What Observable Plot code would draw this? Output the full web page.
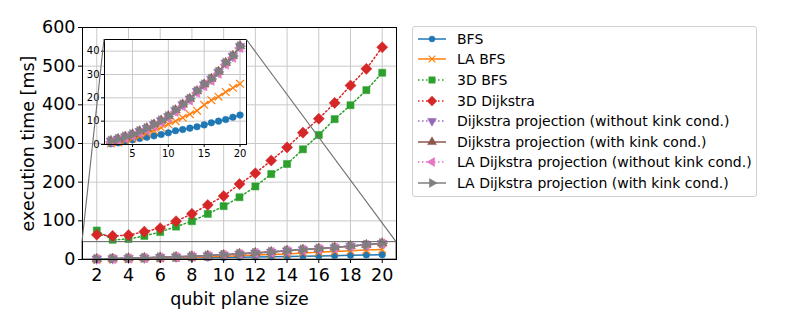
<!DOCTYPE html>
<html><head><meta charset="utf-8">
<script src="https://cdn.jsdelivr.net/npm/d3@7"></script>
<script src="https://cdn.jsdelivr.net/npm/@observablehq/plot@0.6"></script>
<style>
body{margin:0;background:#fff;}
#wrap{position:relative;width:793px;height:325px;font-family:"DejaVu Sans",sans-serif;color:#000;}
#wrap > svg{position:absolute;left:0;top:0;}
</style></head><body><div id="wrap"></div>
<script>
// ---- data ----
const sizes = [2,3,4,5,6,7,8,9,10,11,12,13,14,15,16,17,18,19,20];
const bfs        = [0.3,0.7,1.3,2.0,2.6,3.1,3.7,4.3,5.0,5.9,6.4,7.0,7.6,8.4,9.3,10.0,10.7,11.7,12.6];
const laBfs      = [0.4,0.9,1.6,2.5,3.6,4.8,6.0,7.2,8.7,10.0,11.5,13.0,14.5,17.0,19.0,20.5,22.5,24.3,26.0];
const bfs3d      = [75,51,53,61,71,85,99,118,138,161,189,221,247,285,322,363,399,438,483];
const dijkstra3d = [64,61,63,72,81,99,118,141,164,195,223,256,290,328,364,405,450,493,549];
const dijProjNoKink   = [1.6,2.4,3.4,4.3,5.7,7.0,8.6,10.3,12.1,14.7,17.1,19.6,22.9,25.7,28.1,31.1,35.0,37.9,42.1];
const dijProjKink     = [1.6,2.4,3.4,4.4,5.7,7.0,8.6,10.3,12.2,14.7,17.2,19.6,22.9,25.8,28.2,31.2,35.0,38.0,42.2];
const laDijProjNoKink = [1.1,1.8,2.8,3.7,5.0,6.3,7.9,9.6,11.4,14.0,16.4,18.9,22.2,25.0,27.4,30.4,34.3,37.2,41.4];
const laDijProjKink   = [1.6,2.4,3.4,4.3,5.7,7.0,8.6,10.3,12.1,14.7,17.1,19.6,22.9,25.7,28.1,31.1,35.0,37.9,42.1];
const seriesNames = ["BFS","LA BFS","3D BFS","3D Dijkstra",
  "Dijkstra projection (without kink cond.)","Dijkstra projection (with kink cond.)",
  "LA Dijkstra projection (without kink cond.)","LA Dijkstra projection (with kink cond.)"];
const xTicks = [2,4,6,8,10,12,14,16,18,20];
const yTicks = [0,100,200,300,400,500,600];
const insetXTicks = [5,10,15,20];
const insetYTicks = [0,10,20,30,40];
const xDomain = [1.1, 20.9];
const yDomain = [0, 600];
const insetYDomain = [0, 45];
const mainLabels = {x:"qubit plane size", y:"execution time [ms]"};

// ---- styles ----
const DOT = "1.5,2.5";
const styles = [
  {color:"#1f77b4", dash:null, symbol:"circle",   rotate:0,   r:3.3, lr:3.0, inInset:true},
  {color:"#ff7f0e", dash:null, symbol:"times",    rotate:0,   r:3.6, lr:3.2, inInset:true},
  {color:"#2ca02c", dash:DOT,  symbol:"square",   rotate:0,   r:4.0, lr:3.6, inInset:false},
  {color:"#d62728", dash:DOT,  symbol:"diamond2", rotate:0,   r:5.0, lr:4.4, inInset:false},
  {color:"#9467bd", dash:DOT,  symbol:"triangle", rotate:180, r:3.6, lr:3.3, inInset:true},
  {color:"#8c564b", dash:null, symbol:"triangle", rotate:0,   r:3.6, lr:3.3, inInset:true},
  {color:"#e377c2", dash:DOT,  symbol:"triangle", rotate:-90, r:3.6, lr:3.3, inInset:true},
  {color:"#7f7f7f", dash:null, symbol:"triangle", rotate:90,  r:3.6, lr:3.3, inInset:true}
];
const values = [bfs, laBfs, bfs3d, dijkstra3d, dijProjNoKink, dijProjKink, laDijProjNoKink, laDijProjKink];
const series = seriesNames.map((name,i)=>({name, values:values[i], ...styles[i]}));
const rows = vals => sizes.map((s,i)=>({x:s, y:vals[i]}));

function seriesMarks(list){
  return list.flatMap(s=>{
    const data = rows(s.values);
    const stroked = s.symbol === "times";
    return [
      Plot.line(data,{x:"x",y:"y",stroke:s.color,strokeWidth:1.5,strokeDasharray:s.dash}),
      Plot.dot(data,{x:"x",y:"y",symbol:s.symbol,r:s.r,rotate:s.rotate,
        fill: stroked ? "none" : s.color, stroke: s.color, strokeWidth: stroked ? 1.2 : 0.5})
    ];
  });
}
const GRID = "#c9c9c9";
const LINK = "#6e6e6e";
const wrap = document.getElementById("wrap");

const main = Plot.plot({
  width:793, height:325, marginLeft:82, marginRight:397, marginTop:27, marginBottom:66,
  style:{fontFamily:"DejaVu Sans", fontSize:"17.5px", color:"#000", background:"transparent", overflow:"visible"},
  x:{domain:xDomain}, y:{domain:yDomain},
  marks:[
    Plot.gridX(xTicks,{stroke:GRID,strokeOpacity:1,strokeWidth:1}),
    Plot.gridY(yTicks,{stroke:GRID,strokeOpacity:1,strokeWidth:1}),
    ...seriesMarks(series),
    Plot.rect([{x1:xDomain[0],x2:xDomain[1],y1:insetYDomain[0],y2:insetYDomain[1]}],
      {x1:"x1",x2:"x2",y1:"y1",y2:"y2",fill:"none",stroke:LINK,strokeWidth:1.1}),
    Plot.frame({stroke:"#000",strokeWidth:1}),
    Plot.axisX(xTicks,{tickSize:4,tickPadding:5,label:mainLabels.x,labelAnchor:"center",labelOffset:45,labelArrow:"none"}),
    Plot.axisY(yTicks,{tickSize:4,tickPadding:3,label:mainLabels.y,labelAnchor:"center",labelOffset:61,labelArrow:"none"})
  ]
});
wrap.appendChild(main);

const inset = Plot.plot({
  width:793, height:325, marginLeft:104, marginRight:547, marginTop:39, marginBottom:181,
  style:{fontFamily:"DejaVu Sans", fontSize:"10px", color:"#000", background:"transparent", overflow:"visible"},
  x:{domain:xDomain}, y:{domain:insetYDomain},
  marks:[
    Plot.frame({fill:"white",stroke:"none"}),
    Plot.gridX(insetXTicks,{stroke:GRID,strokeOpacity:1,strokeWidth:1}),
    Plot.gridY(insetYTicks,{stroke:GRID,strokeOpacity:1,strokeWidth:1}),
    ...seriesMarks(series.filter(s=>s.inInset)),
    Plot.frame({stroke:"#000",strokeWidth:1}),
    Plot.axisX(insetXTicks,{tickSize:3,tickPadding:2,label:null}),
    Plot.axisY(insetYTicks,{tickSize:3,tickPadding:2,label:null})
  ]
});
wrap.appendChild(inset);

// connector lines from inset corners to the zoom box corners
{
  const ix = inset.scale("x"), iy = inset.scale("y"), mx = main.scale("x"), my = main.scale("y");
  const svg = d3.select(inset);
  [xDomain[0], xDomain[1]].forEach(xv=>{
    svg.append("line")
      .attr("x1", ix.apply(xv)).attr("y1", iy.apply(insetYDomain[1]))
      .attr("x2", mx.apply(xv)).attr("y2", my.apply(insetYDomain[1]))
      .attr("stroke",LINK).attr("stroke-width",1.1);
  });
}

// legend
const symbolTypes = {circle:d3.symbolCircle, times:d3.symbolTimes, square:d3.symbolSquare,
  diamond2:d3.symbolDiamond2, triangle:d3.symbolTriangle};
const legend = d3.select(wrap).append("div")
  .style("position","absolute").style("left","412px").style("top","26px")
  .style("width","343px").style("height","167px")
  .style("border","1px solid #d0d0d0").style("border-radius","3px")
  .style("background","rgba(255,255,255,0.8)").style("padding-top","1.5px").style("box-sizing","content-box");
series.forEach(s=>{
  const row = legend.append("div").style("display","flex").style("align-items","center").style("height","20.6px");
  const svg = row.append("svg").attr("width",40).attr("height",16).style("margin-left","4px").style("flex","none");
  svg.append("line").attr("x1",1).attr("x2",29).attr("y1",8).attr("y2",8)
    .attr("stroke",s.color).attr("stroke-width",1.5).attr("stroke-dasharray",s.dash);
  const stroked = s.symbol === "times";
  svg.append("path").attr("d", d3.symbol(symbolTypes[s.symbol], s.lr*s.lr*Math.PI)())
    .attr("transform",`translate(15,8) rotate(${s.rotate})`)
    .attr("fill", stroked ? "none" : s.color).attr("stroke", s.color).attr("stroke-width", stroked?1.2:0.5);
  row.append("span").text(s.name).style("font-size","14px").style("white-space","nowrap");
});
</script></body></html>
